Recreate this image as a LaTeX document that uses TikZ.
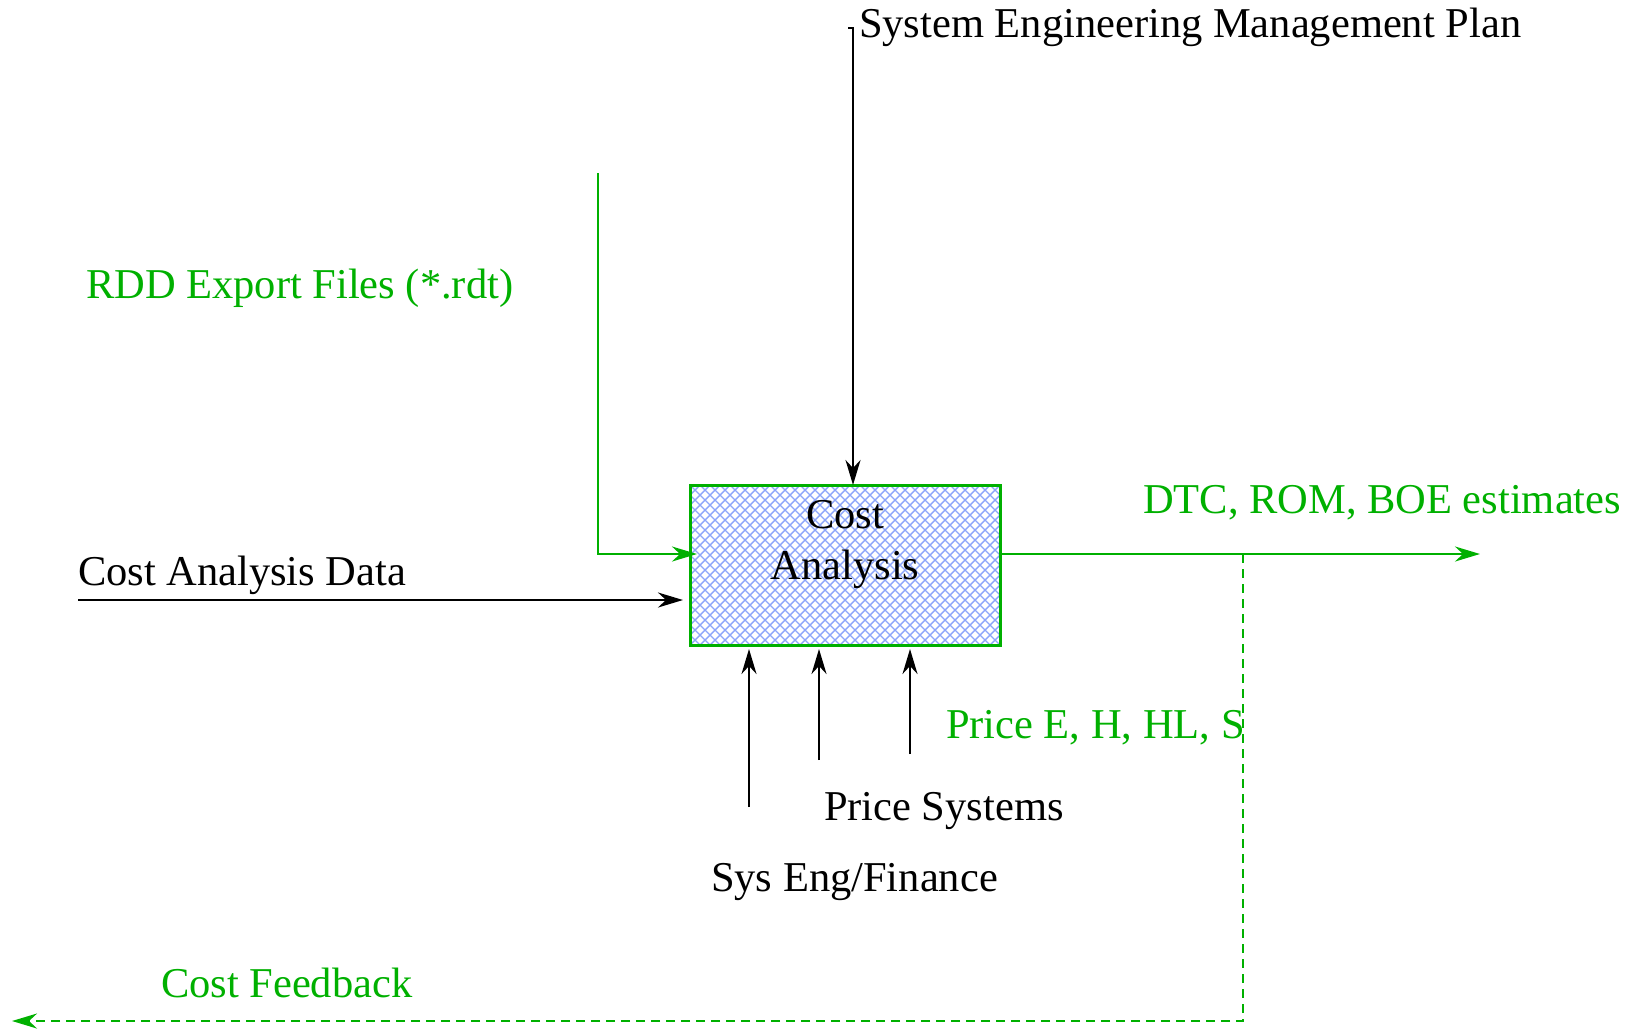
\documentclass[tikz,border=0pt]{standalone}
\usepackage{fontspec}
\setmainfont{Liberation Serif}
\usetikzlibrary{arrows.meta}
\definecolor{figgreen}{RGB}{0,176,0}
\definecolor{hatchblue}{RGB}{140,165,250}

\begin{document}
\begin{tikzpicture}[x=0.5pt,y=-0.5pt,
  every node/.style={inner sep=0pt, outer sep=0pt, font=\fontsize{21.25}{25.5}\selectfont},
  tipped/.style={-{Stealth[length=12.5pt,width=7.5pt,inset=4pt]}},
  flowblack/.style={draw=black, line width=1.2pt, tipped},
  flowgreen/.style={draw=figgreen, line width=1.2pt, tipped},
  feedback/.style={flowgreen, dash pattern=on 4.5pt off 3pt},
  lbl/.style={anchor=base west},
  glbl/.style={anchor=base west, text=figgreen},
  hatchline/.style={draw=hatchblue, line width=0.7pt},
]
\useasboundingbox (0,0) rectangle (1642,1029);

% activity box with diagonal cross-hatching
\node (box) [minimum width=155pt, minimum height=80pt] at (845,565) {};
\begin{scope}
  \clip (box.south west) rectangle (box.north east);
  \foreach \xx in {530,540,...,1160} {
    \draw[hatchline] (\xx,485) -- ++(160,160);
    \draw[hatchline] (\xx,485) -- ++(-160,160);
  }
\end{scope}
\draw[figgreen, line width=1.5pt] (box.south west) rectangle (box.north east);
\node (boxtitleA) [anchor=base] at (845,528) {Cost};
\node (boxtitleB) [anchor=base] at (845,579) {Analysis};

% control from above
\coordinate (smtop) at (848,28);
\coordinate (smbend) at (853,28);
\draw[flowblack] (smtop) -- (smbend) -- (smbend |- box.north);
\node[lbl] (sempl) at (859,37) {System Engineering Management Plan};

% inputs from the left
\coordinate (rddtop) at (598,173);
\coordinate (rddin) at (697,554);
\draw[flowgreen] (rddtop) |- (rddin);
\node[glbl] (rdd) at (86,298) {RDD Export Files (*.rdt)};

\coordinate (cadstart) at (78,600);
\draw[flowblack] (cadstart) -- ([xshift=-3.5pt]box.west |- cadstart);
\node[lbl] (cad) at (78,585) {Cost Analysis Data};

% output and feedback loop
\coordinate (outend) at (1480,554);
\coordinate (fbsplit) at (1243,554);
\coordinate (fbend) at (12,1021);
\draw[flowgreen] (outend -| box.east) -- (outend);
\draw[feedback] (fbsplit) |- (fbend);
\node[glbl] (dtc) at (1143,513) {DTC, ROM, BOE estimates};
\node[glbl] (cfb) at (161,997) {Cost Feedback};

% mechanisms from below
\coordinate (mechA) at (749,807);
\coordinate (mechB) at (819,760);
\coordinate (mechC) at (910,754);
\draw[flowblack] (mechA) -- ([yshift=-2pt]mechA |- box.south);
\draw[flowblack] (mechB) -- ([yshift=-2pt]mechB |- box.south);
\draw[flowblack] (mechC) -- ([yshift=-2pt]mechC |- box.south);
\node[glbl] (price) at (946,738) {Price E, H, HL, S};
\node[lbl] (psys) at (824,820) {Price Systems};
\node[lbl] (sef) at (711,891) {Sys Eng/Finance};
\end{tikzpicture}
\end{document}
